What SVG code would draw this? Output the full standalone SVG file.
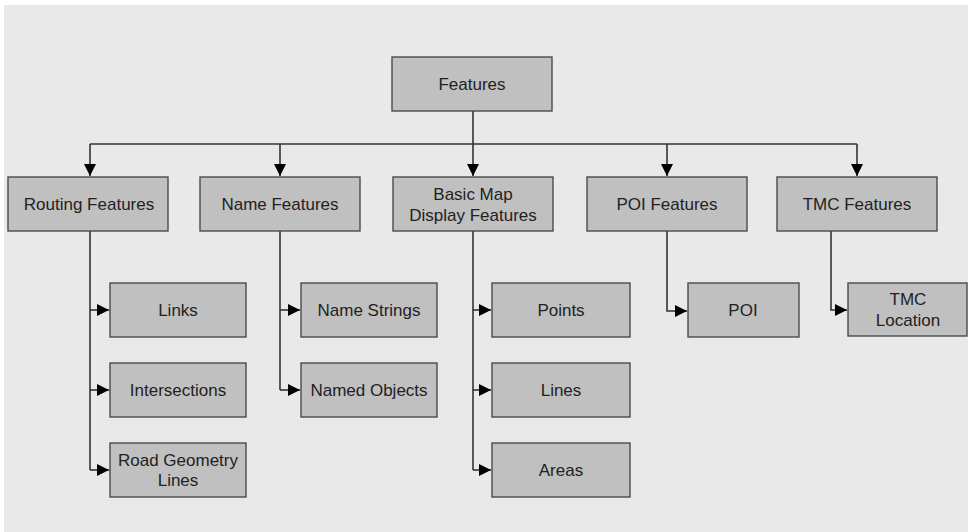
<svg xmlns="http://www.w3.org/2000/svg" width="968" height="532" viewBox="0 0 968 532">
  <style>
    .box { fill: #c0c0c0; stroke: #4a4a4a; stroke-width: 1.4; }
    .lbl { font-family: "Liberation Sans", Arial, sans-serif; font-size: 17px; fill: #222; text-anchor: middle; }
    .wire { fill: none; stroke: #333; stroke-width: 1.6; }
  </style>
  <defs>
    <marker id="arrow" viewBox="0 0 12 12" refX="12" refY="6" markerWidth="12" markerHeight="13" markerUnits="userSpaceOnUse" orient="auto">
      <path d="M0,0 L12,6 L0,12 Z" fill="#000"/>
    </marker>
  </defs>

  <rect x="0" y="0" width="968" height="532" fill="#ffffff"/>
  <rect x="4" y="5" width="964" height="527" fill="#e9e9e9"/>

  <!-- connectors -->
  <g id="connectors">
    <path class="wire" d="M473,111 V144"/>
    <path class="wire" d="M90,144 H857"/>
    <path class="wire" d="M90,144 V176" marker-end="url(#arrow)"/>
    <path class="wire" d="M280,144 V176" marker-end="url(#arrow)"/>
    <path class="wire" d="M473,144 V176" marker-end="url(#arrow)"/>
    <path class="wire" d="M667,144 V176" marker-end="url(#arrow)"/>
    <path class="wire" d="M857,144 V176" marker-end="url(#arrow)"/>

    <path class="wire" d="M90,231 V470"/>
    <path class="wire" d="M90,310 H109" marker-end="url(#arrow)"/>
    <path class="wire" d="M90,390 H109" marker-end="url(#arrow)"/>
    <path class="wire" d="M90,470 H109" marker-end="url(#arrow)"/>

    <path class="wire" d="M280,231 V390"/>
    <path class="wire" d="M280,310 H300" marker-end="url(#arrow)"/>
    <path class="wire" d="M280,390 H300" marker-end="url(#arrow)"/>

    <path class="wire" d="M473,231 V470"/>
    <path class="wire" d="M473,310 H491" marker-end="url(#arrow)"/>
    <path class="wire" d="M473,390 H491" marker-end="url(#arrow)"/>
    <path class="wire" d="M473,470 H491" marker-end="url(#arrow)"/>

    <path class="wire" d="M667,231 V311 H687" marker-end="url(#arrow)"/>
    <path class="wire" d="M831,231 V310 H847" marker-end="url(#arrow)"/>
  </g>

  <g id="features">
    <rect class="box" x="392" y="57" width="160" height="54"/>
    <text class="lbl" x="472" y="90">Features</text>
  </g>

  <g id="routing-features">
    <rect class="box" x="8" y="177" width="160" height="54"/>
    <text class="lbl" x="89" y="210">Routing Features</text>
  </g>
  <g id="name-features">
    <rect class="box" x="200" y="177" width="160" height="54"/>
    <text class="lbl" x="280" y="210">Name Features</text>
  </g>
  <g id="basic-map-display-features">
    <rect class="box" x="393" y="177" width="160" height="54"/>
    <text class="lbl" x="473" y="200">Basic Map</text>
    <text class="lbl" x="473" y="221">Display Features</text>
  </g>
  <g id="poi-features">
    <rect class="box" x="587" y="177" width="160" height="54"/>
    <text class="lbl" x="667" y="210">POI Features</text>
  </g>
  <g id="tmc-features">
    <rect class="box" x="777" y="177" width="160" height="54"/>
    <text class="lbl" x="857" y="210">TMC Features</text>
  </g>

  <g id="links">
    <rect class="box" x="110" y="283" width="136" height="54"/>
    <text class="lbl" x="178" y="316">Links</text>
  </g>
  <g id="intersections">
    <rect class="box" x="110" y="363" width="136" height="54"/>
    <text class="lbl" x="178" y="396">Intersections</text>
  </g>
  <g id="road-geometry-lines">
    <rect class="box" x="110" y="443" width="136" height="54"/>
    <text class="lbl" x="178" y="466">Road Geometry</text>
    <text class="lbl" x="178" y="486">Lines</text>
  </g>

  <g id="name-strings">
    <rect class="box" x="301" y="283" width="136" height="54"/>
    <text class="lbl" x="369" y="316">Name Strings</text>
  </g>
  <g id="named-objects">
    <rect class="box" x="301" y="363" width="136" height="54"/>
    <text class="lbl" x="369" y="396">Named Objects</text>
  </g>

  <g id="points">
    <rect class="box" x="492" y="283" width="138" height="54"/>
    <text class="lbl" x="561" y="316">Points</text>
  </g>
  <g id="lines">
    <rect class="box" x="492" y="363" width="138" height="54"/>
    <text class="lbl" x="561" y="396">Lines</text>
  </g>
  <g id="areas">
    <rect class="box" x="492" y="443" width="138" height="54"/>
    <text class="lbl" x="561" y="476">Areas</text>
  </g>

  <g id="poi">
    <rect class="box" x="688" y="283" width="111" height="54"/>
    <text class="lbl" x="743" y="316">POI</text>
  </g>

  <g id="tmc-location">
    <rect class="box" x="848" y="283" width="119" height="53"/>
    <text class="lbl" x="908" y="305">TMC</text>
    <text class="lbl" x="908" y="326">Location</text>
  </g>
</svg>
